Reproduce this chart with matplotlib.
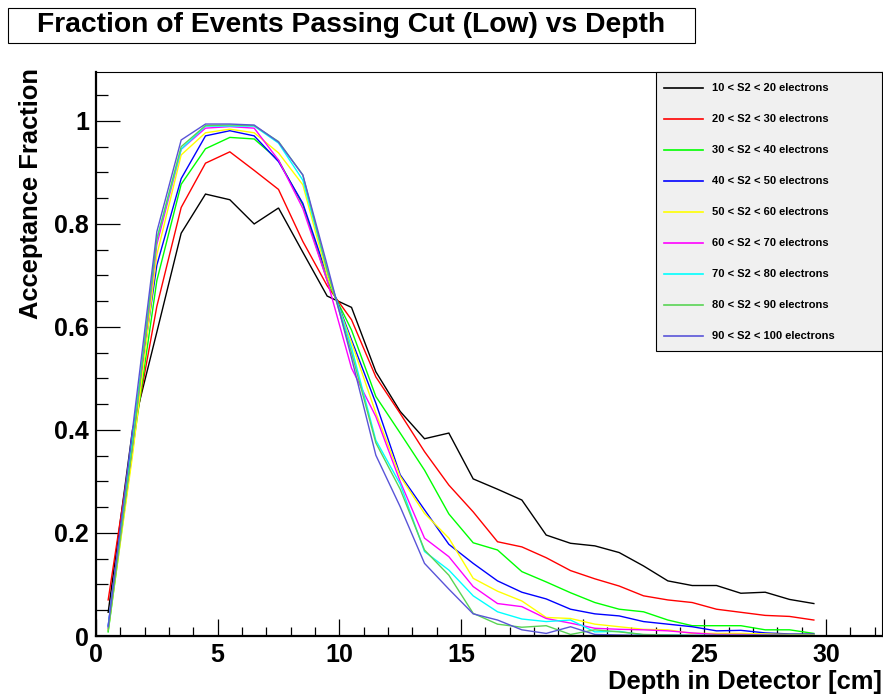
import matplotlib
matplotlib.use("Agg")
import matplotlib.pyplot as plt
from matplotlib.patches import Rectangle
from matplotlib.lines import Line2D
from matplotlib.ticker import MultipleLocator, FuncFormatter
import numpy as np

depth = [0.5 + i for i in range(30)]

s2_10_20 = [0.046, 0.40, 0.59, 0.782, 0.858, 0.847, 0.800, 0.831, 0.745, 0.660,
            0.638, 0.513, 0.436, 0.383, 0.394, 0.305, 0.285, 0.264, 0.196, 0.180,
            0.175, 0.162, 0.136, 0.107, 0.098, 0.098, 0.083, 0.085, 0.071, 0.063]
s2_20_30 = [0.070, 0.38, 0.64, 0.832, 0.918, 0.940, 0.904, 0.867, 0.766, 0.680,
            0.614, 0.503, 0.432, 0.358, 0.293, 0.241, 0.183, 0.173, 0.152, 0.127,
            0.111, 0.097, 0.078, 0.070, 0.065, 0.052, 0.046, 0.040, 0.038, 0.031]
s2_30_40 = [0.008, 0.36, 0.69, 0.877, 0.946, 0.968, 0.965, 0.924, 0.837, 0.690,
            0.594, 0.465, 0.394, 0.322, 0.237, 0.181, 0.167, 0.125, 0.105, 0.084,
            0.065, 0.052, 0.047, 0.031, 0.020, 0.020, 0.020, 0.012, 0.012, 0.005]
s2_40_50 = [0.020, 0.39, 0.72, 0.888, 0.971, 0.981, 0.971, 0.921, 0.840, 0.700,
            0.575, 0.452, 0.313, 0.245, 0.178, 0.141, 0.107, 0.085, 0.072, 0.052,
            0.043, 0.039, 0.028, 0.023, 0.018, 0.010, 0.011, 0.006, 0.004, 0.004]
s2_50_60 = [0.012, 0.35, 0.74, 0.934, 0.977, 0.984, 0.977, 0.938, 0.876, 0.700,
            0.570, 0.433, 0.310, 0.238, 0.190, 0.112, 0.087, 0.068, 0.036, 0.034,
            0.023, 0.018, 0.013, 0.012, 0.005, 0.005, 0.005, 0.004, 0.003, 0.003]
s2_60_70 = [0.015, 0.37, 0.76, 0.945, 0.986, 0.989, 0.986, 0.924, 0.830, 0.690,
            0.520, 0.426, 0.300, 0.190, 0.154, 0.096, 0.063, 0.057, 0.034, 0.025,
            0.015, 0.013, 0.012, 0.010, 0.006, 0.003, 0.003, 0.002, 0.001, 0.001]
s2_70_80 = [0.018, 0.38, 0.77, 0.945, 0.990, 0.990, 0.990, 0.957, 0.885, 0.710,
            0.560, 0.380, 0.295, 0.164, 0.128, 0.078, 0.047, 0.033, 0.028, 0.031,
            0.008, 0.009, 0.002, 0.002, 0.001, 0.001, 0.001, 0.001, 0.001, 0.001]
s2_80_90 = [0.010, 0.37, 0.77, 0.950, 0.991, 0.992, 0.991, 0.960, 0.895, 0.710,
            0.550, 0.375, 0.285, 0.167, 0.118, 0.044, 0.023, 0.017, 0.020, 0.003,
            0.012, 0.008, 0.003, 0.002, 0.001, 0.001, 0.001, 0.001, 0.001, 0.001]
s2_90_100 = [0.018, 0.40, 0.785, 0.963, 0.994, 0.994, 0.992, 0.959, 0.895, 0.720,
             0.540, 0.351, 0.251, 0.141, 0.091, 0.043, 0.031, 0.012, 0.005, 0.018,
             0.003, 0.002, 0.001, 0.001, 0.001, 0.001, 0.001, 0.001, 0.001, 0.001]

series = [s2_10_20, s2_20_30, s2_30_40, s2_40_50, s2_50_60,
          s2_60_70, s2_70_80, s2_80_90, s2_90_100]
labels = ["10 < S2 < 20 electrons", "20 < S2 < 30 electrons", "30 < S2 < 40 electrons",
          "40 < S2 < 50 electrons", "50 < S2 < 60 electrons", "60 < S2 < 70 electrons",
          "70 < S2 < 80 electrons", "80 < S2 < 90 electrons", "90 < S2 < 100 electrons"]
colors = ["black", "#ff0000", "#00ff00", "#0000ff", "#ffff00",
          "#ff00ff", "#00ffff", "#59d454", "#5954d8"]

W, H = 883, 698
FONT = "Liberation Sans"
plt.rcParams['font.family'] = [FONT, 'DejaVu Sans']

fig = plt.figure(figsize=(W / 100, H / 100), dpi=100)

def fx(px):
    return px / W

def fy(py):
    return 1 - py / H

ax = fig.add_axes([fx(96), fy(636), fx(882) - fx(96), fy(72) - fy(636)])
ax.set_xlim(0, 32.3)
ax.set_ylim(0, 1.095)

for ys, c in zip(series, colors):
    ax.plot(depth, ys, color=c, lw=1.0, solid_joinstyle='miter')

ax.xaxis.set_major_locator(MultipleLocator(5))
ax.xaxis.set_minor_locator(MultipleLocator(1))
ax.yaxis.set_major_locator(MultipleLocator(0.2))
ax.yaxis.set_minor_locator(MultipleLocator(0.05))
fmt = FuncFormatter(lambda v, p: "%g" % round(v, 3))
ax.xaxis.set_major_formatter(fmt)
ax.yaxis.set_major_formatter(fmt)

ax.tick_params(axis='x', which='major', direction='in', length=12.5, width=0.9,
               top=False, labelsize=18, pad=5)
ax.tick_params(axis='x', which='minor', direction='in', length=6.5, width=0.9, top=False)
ax.tick_params(axis='y', which='major', direction='in', length=17, width=0.9,
               right=False, labelsize=18, pad=5)
ax.tick_params(axis='y', which='minor', direction='in', length=8.5, width=0.9, right=False)
for lab in ax.get_xticklabels() + ax.get_yticklabels():
    lab.set_fontweight('bold')

ax.spines['left'].set_linewidth(1.6)
ax.spines['bottom'].set_linewidth(1.6)
ax.spines['top'].set_linewidth(0.8)
ax.spines['right'].set_linewidth(0.8)

# axis titles
fig.text(fx(882), fy(682), "Depth in Detector [cm]", ha='right', va='center',
         fontsize=18.4, fontweight='bold')
fig.text(fx(31), fy(68), "Acceptance Fraction", ha='center', va='top', rotation=90,
         fontsize=18.4, fontweight='bold')

# title box
fig.patches.append(Rectangle((fx(8), fy(43)), fx(695) - fx(8), fy(8) - fy(43),
                             transform=fig.transFigure, facecolor='white',
                             edgecolor='black', lw=0.8, zorder=5))
fig.text(fx(351.5), fy(25), "Fraction of Events Passing Cut (Low) vs Depth",
         ha='center', va='center', fontsize=20.3, fontweight='bold', zorder=6)

# legend box
fig.patches.append(Rectangle((fx(656), fy(351)), fx(882) - fx(656), fy(72) - fy(351),
                             transform=fig.transFigure, facecolor='#f0f0f0',
                             edgecolor='black', lw=0.8, zorder=5))
for i, (lab, c) in enumerate(zip(labels, colors)):
    yc = 87.7 + i * 31.0
    fig.lines.append(Line2D([fx(664), fx(703)], [fy(yc), fy(yc)],
                            transform=fig.transFigure, color=c, lw=1.2, zorder=6))
    fig.text(fx(712), fy(yc), lab, ha='left', va='center', fontsize=8,
             fontweight='bold', zorder=6)

fig.savefig("out.png", dpi=100)
